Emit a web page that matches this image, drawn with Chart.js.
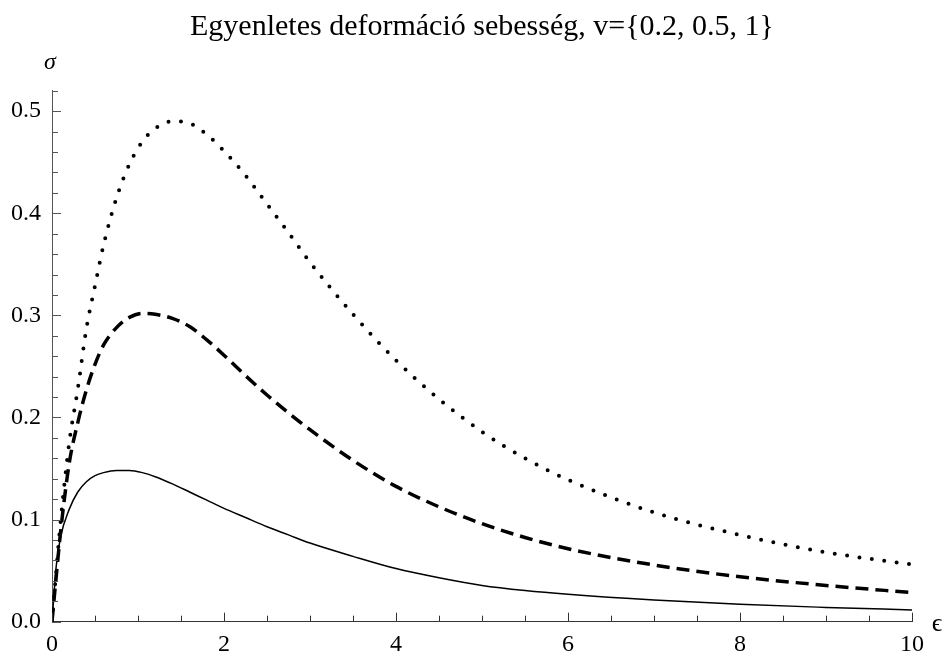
<!DOCTYPE html>
<html>
<head>
<meta charset="utf-8">
<script src="https://cdn.jsdelivr.net/npm/chart.js@4"></script>
<style>
  body { margin: 0; background: #fff; }
  #wrap { width: 943px; height: 656px; }
</style>
</head>
<body>
<div id="wrap"><canvas id="sigmaChart"></canvas></div>
<script>
// strain values (epsilon), shared by all three curves
const eps = [0, 0.05, 0.1, 0.2, 0.3, 0.4, 0.5, 0.6, 0.75, 0.9, 1.05, 1.2, 1.4, 1.6, 1.8, 2.0,
    2.25, 2.5, 2.75, 3.0, 3.5, 4.0, 4.5, 5.0, 5.5, 6.0, 7.0, 8.0, 9.0, 10.0];

// stress, v = 0.2 (solid)
const sigmaV02 = [0, 0.055, 0.083, 0.110, 0.127, 0.137, 0.143, 0.146, 0.148, 0.148, 0.146, 0.142,
    0.135, 0.127, 0.119, 0.111, 0.102, 0.093, 0.085, 0.077, 0.064, 0.052, 0.043, 0.0355, 0.0305,
    0.0268, 0.0212, 0.0170, 0.0140, 0.0115];

// v = 0.5 (dashed)
const sigmaV05 = [0, 0.045, 0.088, 0.155, 0.195, 0.227, 0.252, 0.271, 0.288, 0.298, 0.302, 0.301,
    0.297, 0.289, 0.276, 0.261, 0.241, 0.222, 0.2045, 0.188, 0.158, 0.1325, 0.1125, 0.096, 0.0825,
    0.0715, 0.0555, 0.0440, 0.0355, 0.0285];

// v = 1 (dotted)
const sigmaV1 = [0, 0.050, 0.098, 0.175, 0.228, 0.287, 0.329, 0.369, 0.415, 0.448, 0.470, 0.483,
    0.490, 0.488, 0.477, 0.461, 0.437, 0.409, 0.381, 0.352, 0.301, 0.256, 0.218, 0.186, 0.160,
    0.139, 0.107, 0.085, 0.068, 0.056];

const xTickLabels = [0, 2, 4, 6, 8, 10];
const yTickLabels = [0.0, 0.1, 0.2, 0.3, 0.4, 0.5];
const titleText = 'Egyenletes deformáció sebesség, v={0.2, 0.5, 1}';

const serif = '"Liberation Serif", "DejaVu Serif", serif';

const toPoints = ys => eps.map((e, i) => ({ x: e, y: ys[i] }));

// inward minor/major ticks + axis symbols, placed through the chart's scales
const axisDecor = {
    id: 'axisDecor',
    afterDraw(chart) {
        const { ctx, scales: { x, y } } = chart;
        const x0 = x.getPixelForValue(0);
        const y0 = y.getPixelForValue(0);
        ctx.save();
        ctx.lineWidth = 1;

        ctx.strokeStyle = '#333';
        for (let v = 0; v <= 10.001; v += 0.5) {
            const px = Math.round(x.getPixelForValue(v)) + 0.5;
            const len = xTickLabels.some(t => Math.abs(t - v) < 1e-6) ? 9 : 6;
            ctx.beginPath();
            ctx.moveTo(px, y0);
            ctx.lineTo(px, y0 - len);
            ctx.stroke();
        }

        ctx.strokeStyle = '#555';
        for (let v = 0; v <= 0.5201; v += 0.02) {
            const py = Math.round(y.getPixelForValue(v)) + 0.5;
            const len = yTickLabels.some(t => Math.abs(t - v) < 1e-6) ? 9 : 6;
            ctx.beginPath();
            ctx.moveTo(x0, py);
            ctx.lineTo(x0 + len, py);
            ctx.stroke();
        }

        ctx.fillStyle = '#000';
        ctx.font = 'italic 24px ' + serif;
        ctx.textAlign = 'center';
        ctx.textBaseline = 'middle';
        ctx.fillText('σ', x0 - 2, y.top - 28);
        ctx.font = '26px ' + serif;
        ctx.fillText('ϵ', x.right + 25, y0 + 2);
        ctx.restore();
    }
};

new Chart(document.getElementById('sigmaChart'), {
    type: 'line',
    data: {
        datasets: [
            {
                label: 'v=0.2',
                data: toPoints(sigmaV02),
                borderColor: '#000',
                borderWidth: 1.5,
                pointRadius: 0,
                cubicInterpolationMode: 'monotone',
                fill: false
            },
            {
                label: 'v=0.5',
                data: toPoints(sigmaV05),
                borderColor: '#000',
                borderWidth: 3.5,
                borderDash: [13, 7],
                pointRadius: 0,
                cubicInterpolationMode: 'monotone',
                fill: false
            },
            {
                label: 'v=1',
                data: toPoints(sigmaV1),
                borderColor: '#000',
                borderWidth: 4,
                borderDash: [0, 12.5],
                borderCapStyle: 'round',
                pointRadius: 0,
                cubicInterpolationMode: 'monotone',
                fill: false
            }
        ]
    },
    options: {
        responsive: true,
        maintainAspectRatio: false,
        animation: false,
        layout: { padding: { left: 0, right: 31, top: 0, bottom: 0 } },
        plugins: {
            legend: { display: false },
            tooltip: { enabled: false },
            title: {
                display: true,
                fullSize: false,
                text: titleText,
                color: '#000',
                font: { family: serif, size: 30, weight: 'normal' },
                padding: { top: 9, bottom: 45.7 }
            }
        },
        scales: {
            x: {
                type: 'linear',
                min: 0,
                max: 10,
                afterFit: s => { s.height = 34.3; },
                border: { display: true, color: '#333', width: 1 },
                grid: { display: false, drawTicks: false },
                ticks: {
                    stepSize: 2,
                    padding: 9,
                    color: '#000',
                    font: { family: serif, size: 24 },
                    callback: v => xTickLabels.includes(v) ? String(v) : ''
                }
            },
            y: {
                type: 'linear',
                min: 0,
                max: 0.52,
                afterFit: s => { s.width = 52; },
                border: { display: true, color: '#555', width: 1 },
                grid: { display: false, drawTicks: false },
                ticks: {
                    stepSize: 0.1,
                    includeBounds: false,
                    padding: 11,
                    color: '#000',
                    font: { family: serif, size: 24 },
                    callback: v => v.toFixed(1)
                }
            }
        }
    },
    plugins: [axisDecor]
});
</script>
</body>
</html>
